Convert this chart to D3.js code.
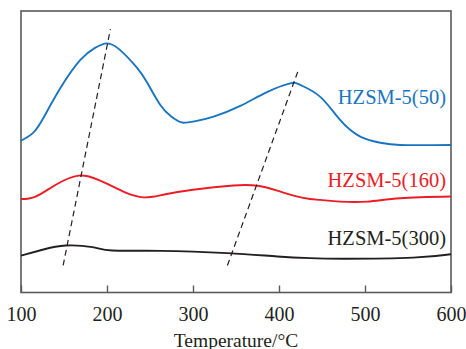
<!DOCTYPE html>
<html>
<head>
<meta charset="utf-8">
<script src="https://cdn.jsdelivr.net/npm/d3@7"></script>
<style>
  body { margin: 0; background: #fff; }
  svg text { font-family: "Liberation Serif", "Times New Roman", serif; }
</style>
</head>
<body>
<div class="chart-container"></div>
<script>
// temperature (°C) and signal (a.u.)
const tempBlue = [100, 114, 126, 146, 169, 186, 200, 215, 235, 247, 262, 274, 282, 289, 303, 324, 355, 386, 413, 425, 448, 471, 495, 518, 541, 600];
const valBlue  = [53.9, 56.7, 62.0, 72.7, 82.6, 86.9, 88.5, 86.2, 79.8, 74.4, 66.6, 62.7, 61.0, 60.3, 60.9, 62.5, 66.3, 71.2, 74.3, 73.7, 69.5, 61.3, 55.3, 53.2, 52.4, 52.4];

const tempRed = [100, 117, 140, 167, 190, 210, 221, 233, 242, 253, 268, 300, 347, 375, 398, 417, 436, 448, 471, 503, 541, 600];
const valRed  = [33.2, 34.1, 38.2, 41.5, 40.0, 37.2, 35.6, 34.3, 33.8, 34.0, 34.9, 36.5, 38.0, 37.9, 36.2, 34.4, 33.2, 32.9, 32.3, 32.3, 33.5, 34.1];

const tempBlack = [100, 125, 152, 183, 206, 262, 340, 398, 436, 478, 556, 600];
const valBlack  = [13.1, 15.2, 16.7, 16.1, 14.9, 14.8, 14.0, 12.8, 12.2, 12.0, 12.4, 13.6];

const seriesNames = ['HZSM-5(50)', 'HZSM-5(160)', 'HZSM-5(300)'];
const seriesColors = ['#1a75c0', '#ec1c24', '#231f20'];

// dashed guide lines [[t0, v0], [t1, v1]]
const guideLow  = [[149, 9.6], [204, 93.6]];
const guideHigh = [[340, 9.6], [423, 79.4]];

const xTicks = [100, 200, 300, 400, 500, 600];

const serif = '"Liberation Serif", "Times New Roman", serif';
const outerWidth = 466;
const outerHeight = 349;
const margin = {top: 11, right: 15, bottom: 56.5, left: 21};
const width = outerWidth - margin.left - margin.right;
const height = outerHeight - margin.top - margin.bottom;

const svg = d3.select('.chart-container').append('svg')
    .attr('width', outerWidth)
    .attr('height', outerHeight);

const g = svg.append('g')
    .attr('transform', `translate(${margin.left}, ${margin.top})`);

// Scales
const x = d3.scaleLinear().domain([100, 600]).range([0, width]);
const y = d3.scaleLinear().domain([0, 100]).range([height, 0]);

// Frame
g.append('rect')
    .attr('width', width)
    .attr('height', height)
    .attr('fill', 'none')
    .attr('stroke', '#5a5a5a')
    .attr('stroke-width', 1.6);

// Axis with inward ticks
const xAxis = d3.axisBottom(x).tickValues(xTicks).tickSizeInner(-7).tickSizeOuter(0).tickPadding(14);
const gx = g.append('g')
    .attr('transform', `translate(0, ${height})`)
    .call(xAxis)
    .attr('font-family', serif);
gx.select('.domain').remove();
gx.selectAll('.tick line').attr('stroke', '#5a5a5a').attr('stroke-width', 1.4);
gx.selectAll('.tick text')
    .attr('fill', '#231f20')
    .style('font-family', serif)
    .style('font-size', '20px');

g.append('text')
    .attr('x', width / 2)
    .attr('y', height + 54)
    .attr('text-anchor', 'middle')
    .attr('fill', '#231f20')
    .style('font-size', '19.5px')
    .text('Temperature/°C');

// Curves
const line = d3.line()
    .x(d => x(d[0]))
    .y(d => y(d[1]))
    .curve(d3.curveNatural);

const series = [
    d3.zip(tempBlue, valBlue),
    d3.zip(tempRed, valRed),
    d3.zip(tempBlack, valBlack)
];

series.forEach((pts, i) => {
    g.append('path')
        .datum(pts)
        .attr('fill', 'none')
        .attr('stroke', seriesColors[i])
        .attr('stroke-width', 1.9)
        .attr('d', line);
});

// Dashed guides
[guideLow, guideHigh].forEach(pts => {
    g.append('path')
        .datum(pts)
        .attr('fill', 'none')
        .attr('stroke', '#231f20')
        .attr('stroke-width', 1.2)
        .attr('stroke-dasharray', '6,4')
        .attr('d', d3.line().x(d => x(d[0])).y(d => y(d[1])));
});

// Labels
const labelY = [104, 187, 245];
seriesNames.forEach((name, i) => {
    svg.append('text')
        .attr('x', 446)
        .attr('y', labelY[i])
        .attr('text-anchor', 'end')
        .attr('fill', seriesColors[i])
        .style('font-size', '20.5px')
        .text(name);
});
</script>
</body>
</html>
